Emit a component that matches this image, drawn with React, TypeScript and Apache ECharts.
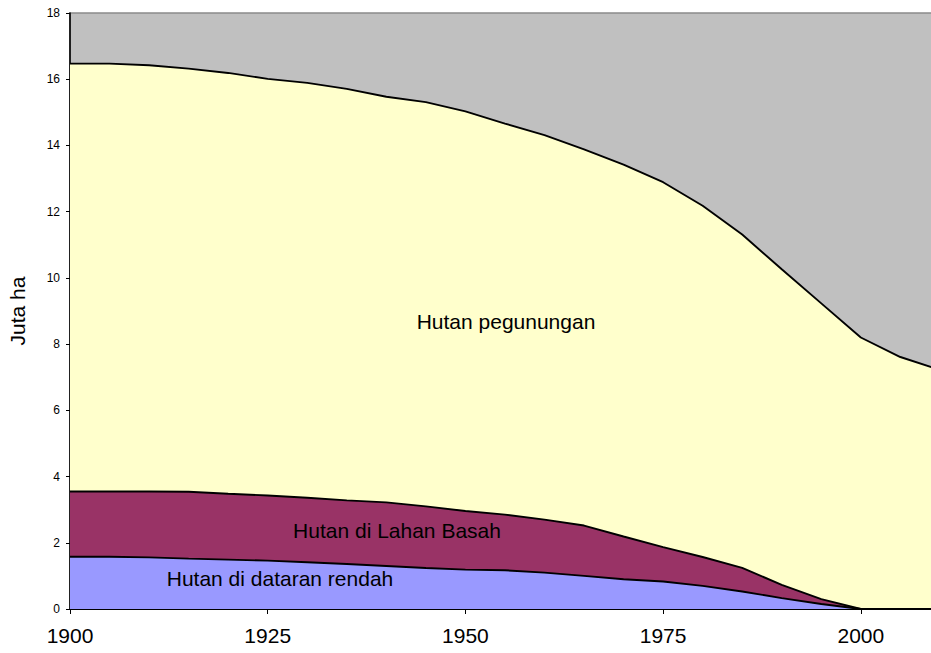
import React, { useEffect, useRef } from "react";
import * as echarts from "echarts";

const years = [1900, 1905, 1910, 1915, 1920, 1925, 1930, 1935, 1940, 1945, 1950, 1955, 1960, 1965, 1970, 1975, 1980, 1985, 1990, 1995, 2000, 2005, 2009];
const lowland = [1.58, 1.58, 1.56, 1.52, 1.49, 1.46, 1.41, 1.36, 1.30, 1.24, 1.19, 1.17, 1.10, 1.00, 0.90, 0.83, 0.70, 0.53, 0.33, 0.15, 0, 0, 0];
const wetland = [1.97, 1.97, 1.99, 2.02, 1.99, 1.97, 1.95, 1.92, 1.92, 1.86, 1.77, 1.68, 1.60, 1.52, 1.29, 1.04, 0.87, 0.71, 0.40, 0.15, 0, 0, 0];
const montane = [12.92, 12.92, 12.87, 12.78, 12.71, 12.58, 12.53, 12.43, 12.25, 12.21, 12.07, 11.81, 11.61, 11.36, 11.23, 11.02, 10.61, 10.07, 9.53, 8.93, 8.20, 7.61, 7.30];

const seriesNames = ["Hutan di dataran rendah", "Hutan di Lahan Basah", "Hutan pegunungan"];
const seriesColors = ["#9999FF", "#993366", "#FFFFCC"];
const yAxisTitle = "Juta ha";

const FONT = 'Arial, "Liberation Sans", sans-serif';

export default function App() {
  const ref = useRef<HTMLDivElement>(null);
  useEffect(() => {
    if (!ref.current) return;
    const chart = echarts.init(ref.current, null, { renderer: "svg" });
    const sets = [lowland, wetland, montane];
    // value first, year second, so that the stack is applied on the y dimension
    const toData = (vals: number[]) => years.map((y, k) => [vals[k], y]);
    const areaSeries = sets.map((vals, i) => ({
      name: seriesNames[i],
      type: "line",
      stack: "area",
      data: toData(vals),
      encode: { x: 1, y: 0 },
      symbol: "none",
      lineStyle: { width: 0 },
      areaStyle: { color: seriesColors[i], opacity: 1 },
      z: 2,
    }));
    const outlineSeries = sets.map((vals, i) => ({
      name: seriesNames[i] + " outline",
      type: "line",
      stack: "outline",
      data: toData(vals),
      encode: { x: 1, y: 0 },
      symbol: "none",
      lineStyle: { color: "#000", width: 1.9 },
      z: 3,
      silent: true,
    }));
    chart.setOption({
      animation: false,
      backgroundColor: "#fff",
      grid: {
        left: 70,
        right: -1,
        top: 13,
        bottom: 44,
        outerBoundsMode: "none",
        containLabel: false,
        show: true,
        backgroundColor: "#C0C0C0",
        borderColor: "#8a8a8a",
        borderWidth: 1.5,
      },
      xAxis: {
        type: "value",
        min: 1900,
        max: 2009,
        interval: 25,
        axisLine: { show: true, lineStyle: { color: "#000", width: 1.2 } },
        axisTick: { show: true, length: 5, lineStyle: { color: "#000" } },
        axisLabel: { color: "#000", fontSize: 21, fontFamily: FONT, margin: 16, showMaxLabel: false, formatter: (v: number) => String(v) },
        splitLine: { show: false },
      },
      yAxis: {
        type: "value",
        min: 0,
        max: 18,
        interval: 2,
        name: yAxisTitle,
        nameLocation: "middle",
        nameRotate: 90,
        nameGap: 42,
        nameTextStyle: { color: "#000", fontSize: 21, fontFamily: FONT },
        axisLine: { show: true, lineStyle: { color: "#000", width: 1.6 } },
        axisTick: { show: true, length: 4, lineStyle: { color: "#000" } },
        axisLabel: { color: "#000", fontSize: 12, fontFamily: FONT, margin: 10 },
        splitLine: { show: false },
      },
      series: [...areaSeries, ...outlineSeries],
      graphic: [
        { type: "text", x: 506, y: 321, z: 10, style: { text: seriesNames[2], fontSize: 21, fontFamily: FONT, fill: "#000", align: "center", verticalAlign: "middle", textAlign: "center", textVerticalAlign: "middle" } },
        { type: "text", x: 397, y: 530, z: 10, style: { text: seriesNames[1], fontSize: 21, fontFamily: FONT, fill: "#000", align: "center", verticalAlign: "middle", textAlign: "center", textVerticalAlign: "middle" } },
        { type: "text", x: 280, y: 578, z: 10, style: { text: seriesNames[0], fontSize: 21, fontFamily: FONT, fill: "#000", align: "center", verticalAlign: "middle", textAlign: "center", textVerticalAlign: "middle" } },
      ],
    });
    return () => chart.dispose();
  }, []);
  return <div ref={ref} style={{ position: "fixed", left: 0, top: 0, width: 931, height: 653 }} />;
}
